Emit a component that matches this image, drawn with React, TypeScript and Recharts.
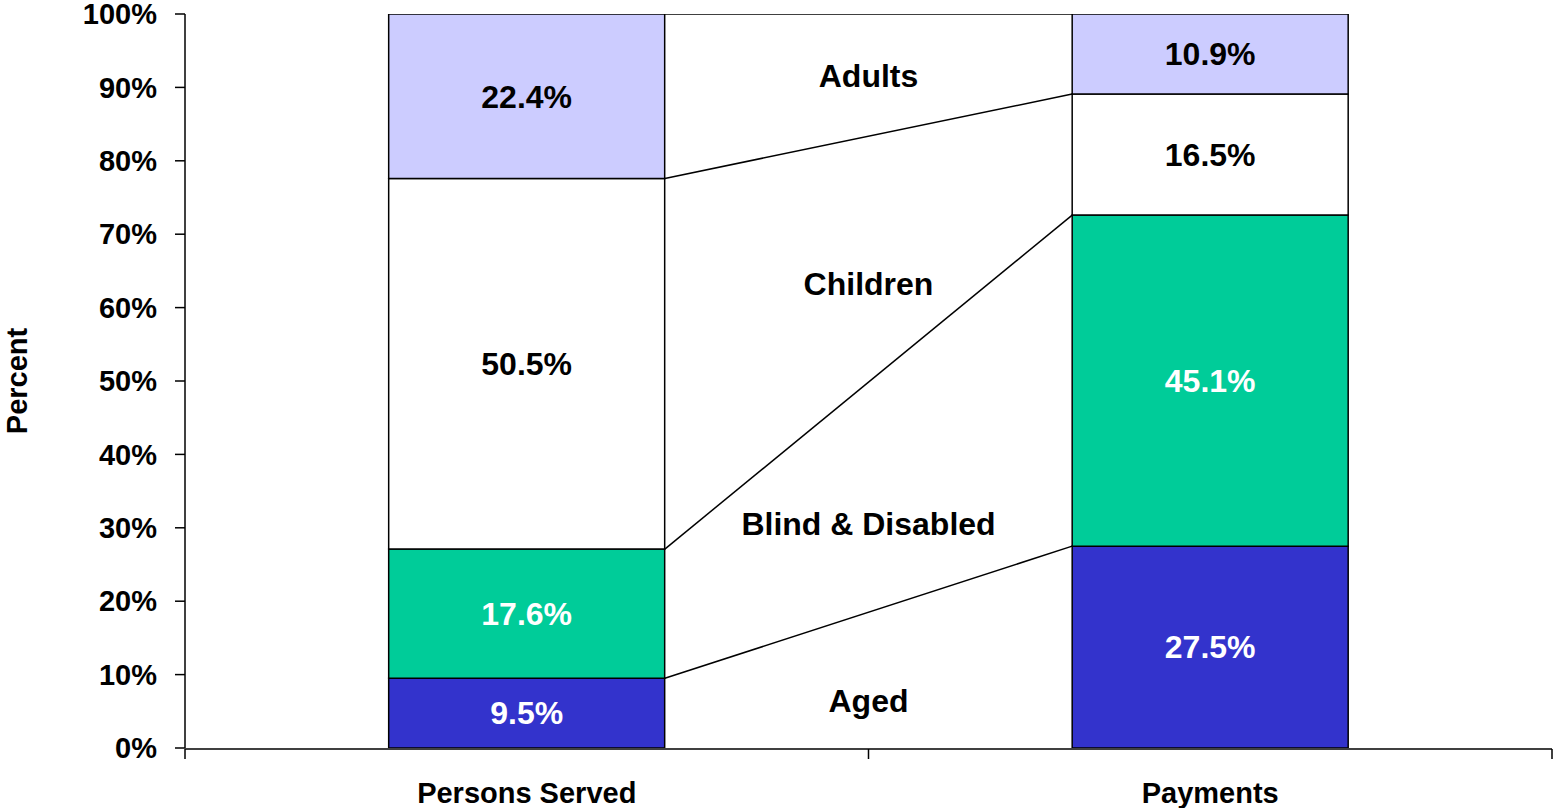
import React from 'react';
import { ComposedChart, Bar, Line, XAxis, YAxis, LabelList } from 'recharts';

const categories = ['Persons Served', 'Payments'];
const aged = [9.5, 27.5];
const blind = [17.6, 45.1];
const children = [50.5, 16.5];
const adults = [22.4, 10.9];
const yTicks = [0, 10, 20, 30, 40, 50, 60, 70, 80, 90, 100];
const groupNames = ['Aged', 'Blind & Disabled', 'Children', 'Adults'];
const groupLabelLevels = [6.5, 30.5, 63.2, 91.6];

const COLORS = { aged: '#3333CC', blind: '#00CC99', children: '#FFFFFF', adults: '#CCCCFF' };
const GAP = 0.298; // barCategoryGap fraction each side
const BAR_FRAC = 1 - 2 * GAP;

const data = categories.map((c, i) => ({
  name: c,
  aged: aged[i],
  blind: blind[i],
  children: children[i],
  adults: adults[i],
}));

const seriesOrder = [aged, blind, children, adults];
const cum = (idx: number, upto: number) => seriesOrder.slice(0, upto + 1).reduce((s, arr) => s + arr[idx], 0);
const connectors = seriesOrder.map((_, k) => [
  { x: 0.5 + BAR_FRAC / 2, y: Math.round(cum(0, k) * 10) / 10 },
  { x: 1.5 - BAR_FRAC / 2, y: Math.round(cum(1, k) * 10) / 10 },
]);
const groupLabelData = groupNames.map((n, i) => ({ x: 1, y: groupLabelLevels[i], name: n }));

const fmt = (v: any) => Number(v).toFixed(1) + '%';
const labelStyle = { fontSize: 32, fontWeight: 700 } as const;

const PercentLabel = (props: any) => {
  const vb = props.viewBox || { x: 0, y: 0, width: 0, height: 0 };
  const x = vb.x + 27;
  const y = vb.y + vb.height / 2;
  return (
    <text x={x} y={y} transform={`rotate(-90, ${x}, ${y})`} textAnchor="middle" fill="#000" fontSize={29} fontWeight={700}>
      Percent
    </text>
  );
};

export default function App() {
  return (
    <div style={{ position: 'absolute', left: 0, top: 0, fontFamily: '"Liberation Sans", Arial, sans-serif' }}>
      <ComposedChart
        width={1554}
        height={808}
        data={data}
        margin={{ top: 14, right: 2, left: 0, bottom: 0 }}
        barCategoryGap={`${GAP * 100}%`}
      >
        <XAxis
          xAxisId="cat"
          dataKey="name"
          type="category"
          height={1}
          axisLine={false}
          tickLine={false}
          tickSize={0}
          tickMargin={34}
          interval={0}
          tick={{ fill: '#000', fontSize: 29, fontWeight: 700 }}
        />
        <XAxis
          xAxisId="num"
          type="number"
          dataKey="x"
          domain={[0, 2]}
          ticks={[0, 1, 2]}
          interval={0}
          allowDataOverflow
          height={59}
          tickSize={10}
          tickFormatter={() => ''}
          axisLine={{ stroke: '#000', strokeWidth: 1.5 }}
          tickLine={{ stroke: '#000', strokeWidth: 1.5 }}
        />
        <YAxis
          width={185}
          domain={[0, 100]}
          ticks={yTicks}
          interval={0}
          allowDataOverflow
          tickFormatter={(v: number) => `${v}%`}
          tickSize={10}
          tickMargin={18}
          tick={{ fill: '#000', fontSize: 29, fontWeight: 700 }}
          axisLine={{ stroke: '#000', strokeWidth: 1.5 }}
          tickLine={{ stroke: '#000', strokeWidth: 1.5 }}
          label={<PercentLabel />}
        />
        <Bar xAxisId="cat" dataKey="aged" stackId="s" fill={COLORS.aged} stroke="#000" strokeWidth={1.5} isAnimationActive={false}>
          <LabelList dataKey="aged" position="center" fill="#fff" style={labelStyle} formatter={fmt} />
        </Bar>
        <Bar xAxisId="cat" dataKey="blind" stackId="s" fill={COLORS.blind} stroke="#000" strokeWidth={1.5} isAnimationActive={false}>
          <LabelList dataKey="blind" position="center" fill="#fff" style={labelStyle} formatter={fmt} />
        </Bar>
        <Bar xAxisId="cat" dataKey="children" stackId="s" fill={COLORS.children} stroke="#000" strokeWidth={1.5} isAnimationActive={false}>
          <LabelList dataKey="children" position="center" fill="#000" style={labelStyle} formatter={fmt} />
        </Bar>
        <Bar xAxisId="cat" dataKey="adults" stackId="s" fill={COLORS.adults} stroke="#000" strokeWidth={1.5} isAnimationActive={false}>
          <LabelList dataKey="adults" position="center" fill="#000" style={labelStyle} formatter={fmt} />
        </Bar>
        {connectors.map((d, k) => (
          <Line
            key={k}
            xAxisId="num"
            data={d}
            dataKey="y"
            type="linear"
            stroke="#000"
            strokeWidth={1.5}
            dot={false}
            activeDot={false}
            isAnimationActive={false}
          />
        ))}
        <Line
          xAxisId="num"
          data={groupLabelData}
          dataKey="y"
          stroke="none"
          dot={false}
          activeDot={false}
          isAnimationActive={false}
        >
          <LabelList dataKey="name" position="center" fill="#000" style={labelStyle} />
        </Line>
      </ComposedChart>
    </div>
  );
}
